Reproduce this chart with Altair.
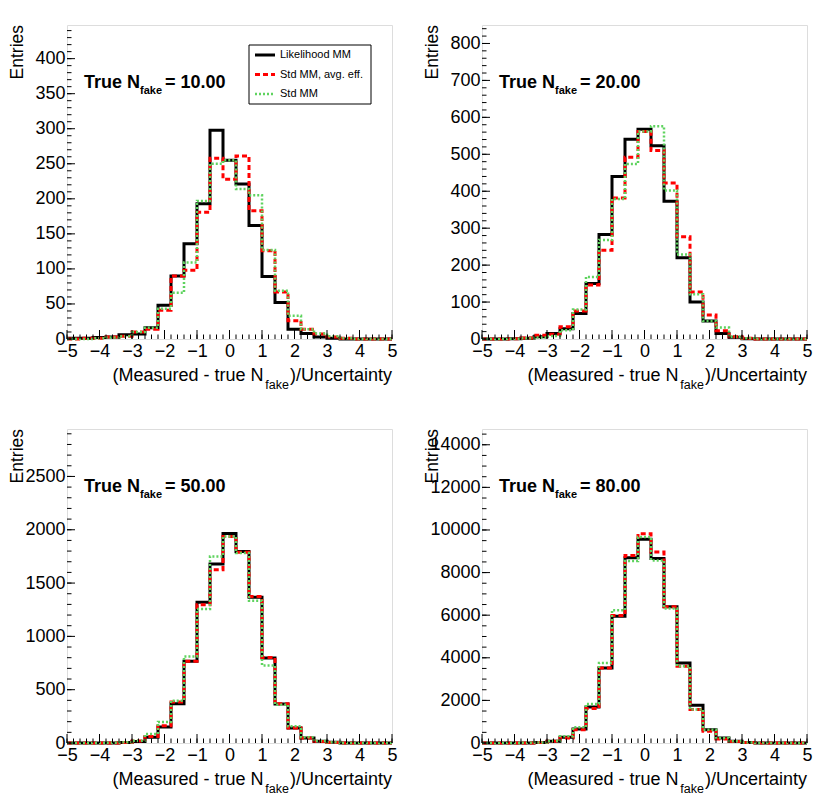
import altair as alt
import numpy as np
import pandas as pd

FONT = "Liberation Sans"
W, H = 325, 314

# ---------------- data ----------------
edges = [-5.0, -4.6, -4.2, -3.8, -3.4, -3.0, -2.6, -2.2, -1.8, -1.4, -1.0, -0.6, -0.2,
         0.2, 0.6, 1.0, 1.4, 1.8, 2.2, 2.6, 3.0, 3.4, 3.8, 4.2, 4.6, 5.0]

series_names = ["Likelihood MM", "Std MM, avg. eff.", "Std MM"]
series_colors = ["#000000", "#ff0000", "#5fd35f"]
true_nfake = ["10.00", "20.00", "50.00", "80.00"]

p1_lik = [1, 1, 2, 3, 6, 7, 16, 48, 90, 136, 193, 298, 255, 221, 162, 89, 52, 14, 8, 3, 1, 0, 0, 0, 0]
p1_avg = [0, 1, 1, 3, 4, 10, 14, 41, 90, 98, 181, 258, 228, 261, 183, 126, 67, 26, 14, 7, 3, 1, 0, 0, 0]
p1_std = [0, 0, 1, 2, 4, 10, 16, 43, 66, 109, 197, 250, 255, 214, 205, 127, 69, 33, 14, 8, 4, 1, 0, 0, 0]

p2_lik = [0, 0, 1, 2, 6, 15, 28, 69, 150, 283, 440, 541, 568, 523, 373, 220, 100, 49, 15, 5, 1, 0, 0, 0, 0]
p2_avg = [0, 0, 1, 3, 10, 13, 33, 76, 146, 240, 382, 492, 562, 510, 422, 277, 127, 65, 22, 6, 2, 0, 0, 0, 0]
p2_std = [0, 0, 1, 2, 4, 8, 24, 80, 168, 268, 379, 474, 562, 576, 402, 229, 121, 49, 31, 6, 2, 0, 0, 0, 0]

p3_lik = [0, 0, 0, 1, 5, 15, 53, 150, 369, 766, 1319, 1678, 1966, 1797, 1366, 797, 366, 141, 47, 16, 6, 1, 0, 0, 0]
p3_avg = [0, 0, 0, 1, 5, 18, 62, 162, 384, 766, 1297, 1625, 1937, 1790, 1375, 803, 369, 141, 47, 15, 5, 1, 0, 0, 0]
p3_std = [0, 0, 0, 2, 6, 20, 84, 197, 397, 812, 1256, 1750, 1937, 1781, 1334, 728, 359, 156, 53, 18, 6, 1, 0, 0, 0]

p4_lik = [0, 0, 0, 5, 20, 78, 266, 658, 1692, 3526, 5955, 8697, 9560, 8666, 6394, 3761, 1771, 627, 235, 78, 20, 5, 0, 0, 0]
p4_avg = [0, 0, 0, 5, 22, 85, 235, 627, 1614, 3526, 5986, 8807, 9825, 8963, 6394, 3604, 1567, 548, 188, 70, 20, 5, 0, 0, 0]
p4_std = [0, 0, 0, 6, 25, 95, 313, 736, 1833, 3761, 6237, 8540, 9668, 8572, 6315, 3604, 1567, 627, 235, 80, 22, 5, 0, 0, 0]

panel_counts = [
    [p1_lik, p1_avg, p1_std],
    [p2_lik, p2_avg, p2_std],
    [p3_lik, p3_avg, p3_std],
    [p4_lik, p4_avg, p4_std],
]

y_max = [448, 850, 2945, 14740]
y_major = [
    [0, 50, 100, 150, 200, 250, 300, 350, 400],
    [0, 100, 200, 300, 400, 500, 600, 700, 800],
    [0, 500, 1000, 1500, 2000, 2500],
    [0, 2000, 4000, 6000, 8000, 10000, 12000, 14000],
]
y_minor_step = [10, 20, 100, 500]
x_major = [-5, -4, -3, -2, -1, 0, 1, 2, 3, 4, 5]
x_minor_step = 0.2

line_widths = [3, 3, 2.5]
line_dashes = [None, [5, 3], [2, 2]]


def one_row(**kw):
    return pd.DataFrame([kw])


def panel(i, legend=False, anchor=False):
    rows = []
    for name, counts in zip(series_names, panel_counts[i]):
        vals = list(counts) + [counts[-1]]
        for e, v in zip(edges, vals):
            rows.append({"series": name, "edge": e, "count": v})
    df = pd.DataFrame(rows)

    xs = alt.Scale(domain=[-5, 5], nice=False, zero=False)
    ys = alt.Scale(domain=[0, y_max[i]], nice=False, zero=True)

    x_axis = alt.Axis(values=x_major, format="d", ticks=False, tickSize=0, domain=False,
                      grid=False, labelPadding=3, labelFontSize=18, labelFont=FONT,
                      labelColor="black", labelFlush=False, labelOverlap=False, title=None)
    y_axis = alt.Axis(values=y_major[i], format="d", ticks=False, tickSize=0, domain=False,
                      grid=False, labelPadding=2, labelFontSize=18, labelFont=FONT,
                      labelColor="black", labelFlush=False, labelOverlap=False, title=None)

    layers = []
    for k, name in enumerate(series_names):
        mk = dict(interpolate="step-after", color=series_colors[k], strokeWidth=line_widths[k])
        if line_dashes[k] is not None:
            mk["strokeDash"] = line_dashes[k]
        layers.append(
            alt.Chart(df).transform_filter(alt.datum.series == name)
            .mark_line(**mk).encode(
                x=alt.X("edge:Q", scale=xs, axis=x_axis),
                y=alt.Y("count:Q", scale=ys, axis=y_axis),
                order="edge:Q")
        )

    # ticks (drawn inward, ROOT style)
    xmin_vals = [round(float(v), 2) for v in np.arange(-5, 5.0001, x_minor_step)]
    layers.append(alt.Chart(pd.DataFrame({"v": xmin_vals})).mark_rule(color="black", strokeWidth=1)
                  .encode(x=alt.X("v:Q", scale=xs, axis=x_axis), y=alt.value(H), y2=alt.value(H - 4.5)))
    layers.append(alt.Chart(pd.DataFrame({"v": x_major})).mark_rule(color="black", strokeWidth=1)
                  .encode(x=alt.X("v:Q", scale=xs, axis=x_axis), y=alt.value(H), y2=alt.value(H - 9)))
    ymin_vals = [float(v) for v in np.arange(0, y_max[i], y_minor_step[i])]
    layers.append(alt.Chart(pd.DataFrame({"v": ymin_vals})).mark_rule(color="black", strokeWidth=1)
                  .encode(y=alt.Y("v:Q", scale=ys, axis=y_axis), x=alt.value(0), x2=alt.value(4.5)))
    layers.append(alt.Chart(pd.DataFrame({"v": y_major[i]})).mark_rule(color="black", strokeWidth=1)
                  .encode(y=alt.Y("v:Q", scale=ys, axis=y_axis), x=alt.value(0), x2=alt.value(8)))

    # y title
    layers.append(alt.Chart(one_row(t="Entries")).mark_text(
        angle=270, align="right", baseline="alphabetic", fontSize=17.5, font=FONT, color="black")
        .encode(x=alt.value(-44), y=alt.value(0), text="t:N"))

    # x title with subscript
    layers.append(alt.Chart(one_row(t="(Measured - true N")).mark_text(
        align="right", baseline="alphabetic", fontSize=18, font=FONT, color="black")
        .encode(x=alt.value(196.5), y=alt.value(H + 42), text="t:N"))
    layers.append(alt.Chart(one_row(t="fake")).mark_text(
        align="right", baseline="alphabetic", fontSize=12.5, font=FONT, color="black")
        .encode(x=alt.value(222), y=alt.value(H + 50), text="t:N"))
    layers.append(alt.Chart(one_row(t=")/Uncertainty")).mark_text(
        align="right", baseline="alphabetic", fontSize=18, font=FONT, color="black")
        .encode(x=alt.value(W), y=alt.value(H + 42), text="t:N"))

    # "True N_fake = ..." label
    layers.append(alt.Chart(one_row(t="True N")).mark_text(
        align="left", baseline="alphabetic", fontSize=18, fontWeight="bold", font=FONT, color="black")
        .encode(x=alt.value(17), y=alt.value(63), text="t:N"))
    layers.append(alt.Chart(one_row(t="fake")).mark_text(
        align="left", baseline="alphabetic", fontSize=11, fontWeight="bold", font=FONT, color="black")
        .encode(x=alt.value(73), y=alt.value(69), text="t:N"))
    layers.append(alt.Chart(one_row(t="= " + true_nfake[i])).mark_text(
        align="left", baseline="alphabetic", fontSize=18, fontWeight="bold", font=FONT, color="black")
        .encode(x=alt.value(98), y=alt.value(63), text="t:N"))

    if legend:
        layers.append(alt.Chart(one_row(t="box")).mark_rect(fill="white", stroke="black", strokeWidth=1)
                      .encode(x=alt.value(182), x2=alt.value(304), y=alt.value(20), y2=alt.value(79)))
        for k, name in enumerate(series_names):
            yy = 30 + 19.5 * k
            mk = dict(color=series_colors[k], strokeWidth=line_widths[k])
            if line_dashes[k] is not None:
                mk["strokeDash"] = line_dashes[k]
            layers.append(alt.Chart(one_row(t=name)).mark_rule(**mk)
                          .encode(x=alt.value(188), x2=alt.value(208), y=alt.value(yy)))
            layers.append(alt.Chart(one_row(t=name)).mark_text(
                align="left", baseline="middle", fontSize=11, font=FONT, color="black")
                .encode(x=alt.value(213), y=alt.value(yy), text="t:N"))

    if anchor:
        layers.append(alt.Chart(one_row(t="a")).mark_rule(opacity=0, strokeWidth=0.1)
                      .encode(x=alt.value(-57), x2=alt.value(-56), y=alt.value(-16)))

    return alt.layer(*layers).properties(width=W, height=H)


chart = alt.concat(
    panel(0, legend=True, anchor=True), panel(1), panel(2, anchor=True), panel(3),
    columns=2, spacing=90, bounds="flush", padding=0,
).configure_view(stroke="black", strokeWidth=1.2).configure(font=FONT)

chart.save("out.html", embed_options={"renderer": "svg", "actions": False})
